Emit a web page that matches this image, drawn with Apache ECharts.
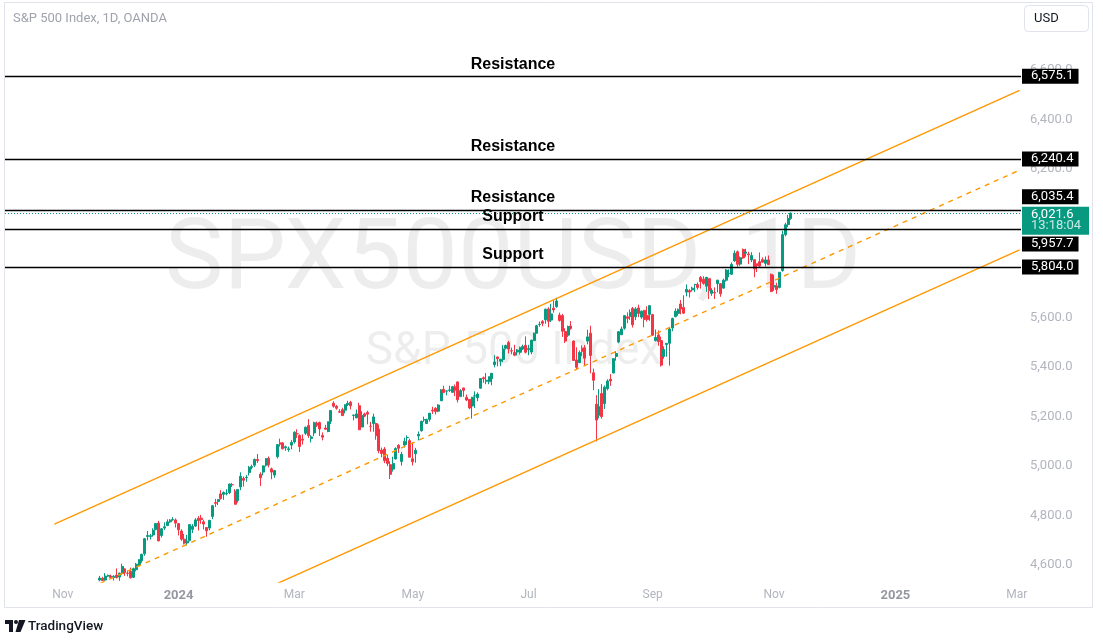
<!DOCTYPE html>
<html>
<head>
<meta charset="utf-8">
<script src="https://cdn.jsdelivr.net/npm/echarts/dist/echarts.min.js"></script>
<style>
html,body{margin:0;padding:0;background:#fff;}
#chart{width:1103px;height:643px;}
</style>
</head>
<body>
<div id="chart"></div>
<script>
// ---------- DATA ----------
const axisStart = '2023-10-04';
const axisEnd = '2025-03-04';
const marketHolidays = ['2023-11-23','2023-12-25','2024-01-01','2024-01-15','2024-02-19','2024-03-29','2024-05-27','2024-06-19','2024-07-04','2024-09-02'];
const firstCandleDate = '2023-11-20';
const monthNames = ['Jan','Feb','Mar','Apr','May','Jun','Jul','Aug','Sep','Oct','Nov','Dec'];

// daily candles [open, close, low, high]
const ohlc = [
// 2023-11
[4540,4548,4535,4557],[4547,4538,4536,4553],[4540,4556,4537,4568],[4556,4559,4553,4562],[4556,4550,4546,4562],[4550,4555,4538,4560],[4560,4550,4546,4587],[4552,4568,4537,4570],
// 2023-12
[4566,4595,4560,4606],[4585,4570,4557,4588],[4568,4567,4555,4578],[4575,4549,4546,4590],[4551,4586,4548,4590],[4582,4604,4575,4609],[4600,4622,4595,4624],[4618,4644,4610,4646],[4646,4707,4638,4710],[4716,4720,4700,4738],
[4716,4719,4704,4726],[4722,4741,4715,4749],[4744,4768,4741,4770],[4770,4698,4697,4779],[4720,4747,4712,4750],[4750,4755,4742,4773],[4760,4775,4758,4785],[4775,4782,4771,4786],[4783,4784,4780,4794],[4783,4770,4752,4789],
// 2024-01
[4768,4743,4720,4770],[4738,4705,4698,4745],[4705,4689,4684,4726],[4690,4697,4680,4722],[4700,4764,4696,4765],[4745,4757,4730,4766],[4758,4783,4755,4790],[4790,4780,4740,4798],[4790,4784,4767,4803],[4775,4766,4744,4783],
[4752,4739,4715,4754],[4750,4781,4741,4783],[4797,4840,4786,4843],[4853,4850,4835,4868],[4857,4865,4843,4866],[4888,4869,4865,4903],[4886,4894,4864,4898],[4888,4891,4882,4907],[4893,4928,4887,4929],[4925,4925,4916,4932],[4899,4846,4845,4907],
// 2024-02
[4861,4906,4853,4907],[4916,4959,4903,4975],[4950,4943,4918,4958],[4954,4955,4937,4964],[4974,4995,4962,5001],[4995,4998,4987,5006],[5004,5027,4996,5031],[5027,5022,5013,5049],[4967,4953,4920,4975],[4976,5001,4963,5003],
[5004,5030,4998,5033],[5032,5006,4995,5039],[4989,4976,4947,4994],[4964,4982,4953,4985],[5038,5087,5031,5088],[5094,5089,5079,5111],[5094,5070,5068,5097],[5074,5078,5062,5083],[5067,5070,5058,5079],[5085,5096,5068,5105],
// 2024-03
[5098,5137,5091,5141],[5131,5131,5114,5149],[5124,5079,5057,5128],[5109,5105,5087,5128],[5133,5157,5126,5160],[5164,5124,5114,5190],[5112,5118,5096,5125],[5134,5175,5121,5180],[5174,5165,5158,5180],[5176,5150,5122,5180],
[5124,5117,5104,5136],[5154,5149,5147,5167],[5140,5179,5137,5180],[5181,5225,5170,5226],[5254,5242,5236,5262],[5242,5234,5228,5247],[5220,5218,5215,5230],[5228,5204,5204,5236],[5226,5248,5213,5250],[5248,5254,5243,5264],
// 2024-04
[5258,5244,5229,5264],[5205,5206,5185,5209],[5195,5211,5194,5229],[5244,5147,5146,5256],[5158,5204,5157,5222],[5211,5202,5198,5216],[5217,5210,5169,5224],[5161,5161,5139,5179],[5172,5199,5139,5212],[5172,5123,5107,5176],
[5150,5062,5052,5168],[5065,5051,5036,5075],[5069,5022,5012,5077],[5032,5011,5000,5046],[5006,4967,4948,5020],[4988,5011,4978,5038],[5029,5071,5027,5076],[5084,5072,5053,5089],[5019,5048,5002,5058],[5085,5100,5075,5115],[5115,5116,5086,5124],[5103,5036,5035,5111],
// 2024-05
[5030,5018,5003,5096],[5050,5064,5014,5074],[5122,5128,5104,5140],[5143,5181,5139,5184],[5187,5188,5179,5200],[5172,5188,5170,5192],[5189,5214,5180,5215],[5226,5223,5211,5240],[5234,5221,5209,5238],[5222,5247,5218,5250],
[5264,5308,5263,5311],[5310,5297,5296,5325],[5303,5304,5286,5306],[5306,5308,5299,5325],[5298,5321,5298,5324],[5320,5307,5283,5330],[5340,5268,5257,5342],[5281,5305,5279,5311],[5316,5306,5280,5316],[5278,5267,5263,5289],[5270,5235,5230,5271],[5243,5278,5192,5280],
// 2024-06
[5283,5284,5235,5302],[5276,5291,5262,5298],[5315,5354,5313,5356],[5357,5353,5337,5362],[5343,5347,5331,5376],[5341,5361,5331,5362],[5353,5375,5327,5376],[5410,5421,5399,5448],[5441,5434,5403,5442],[5424,5432,5404,5433],
[5431,5473,5420,5489],[5476,5487,5471,5491],[5499,5473,5455,5506],[5466,5465,5452,5479],[5459,5448,5444,5490],[5461,5469,5447,5473],[5460,5478,5451,5483],[5473,5483,5469,5491],[5488,5460,5455,5524],
// 2024-07
[5471,5475,5448,5490],[5461,5509,5452,5510],[5507,5537,5505,5540],[5537,5567,5535,5571],[5572,5573,5563,5584],[5584,5577,5565,5590],[5591,5634,5575,5636],[5635,5585,5561,5642],[5590,5615,5582,5656],[5638,5631,5620,5670],
[5644,5667,5640,5680],[5610,5588,5584,5620],[5608,5545,5522,5615],[5544,5505,5497,5557],[5529,5564,5522,5568],[5566,5556,5551,5586],[5505,5427,5425,5508],[5429,5399,5391,5480],[5418,5459,5416,5467],[5476,5464,5444,5488],[5478,5436,5404,5489],[5505,5522,5492,5551],
// 2024-08
[5537,5447,5375,5567],[5377,5347,5307,5394],[5250,5186,5100,5287],[5206,5240,5193,5311],[5293,5200,5192,5331],[5253,5319,5231,5326],[5313,5344,5306,5351],[5351,5344,5324,5372],[5376,5434,5376,5436],[5443,5455,5426,5464],
[5501,5543,5496,5546],[5531,5554,5529,5564],[5557,5608,5551,5609],[5603,5597,5577,5621],[5605,5621,5591,5633],[5637,5571,5560,5643],[5603,5635,5590,5642],[5639,5617,5602,5652],[5602,5626,5595,5628],[5629,5592,5561,5631],[5608,5592,5584,5646],[5613,5648,5587,5651],
// 2024-09
[5612,5529,5527,5615],[5507,5520,5504,5552],[5530,5503,5486,5548],[5507,5408,5402,5523],[5443,5471,5434,5484],[5491,5496,5442,5497],[5496,5554,5406,5561],[5558,5596,5545,5600],[5604,5626,5601,5637],[5617,5633,5607,5637],
[5655,5635,5613,5671],[5641,5618,5615,5690],[5703,5714,5686,5734],[5709,5703,5681,5715],[5712,5719,5705,5725],[5733,5734,5703,5736],[5733,5722,5713,5742],[5762,5745,5717,5768],[5755,5738,5733,5767],[5727,5762,5704,5765],
// 2024-10
[5757,5709,5675,5758],[5698,5710,5688,5719],[5702,5700,5675,5722],[5737,5751,5702,5753],[5737,5696,5684,5739],[5719,5751,5718,5757],[5751,5792,5745,5796],[5778,5780,5763,5795],[5775,5815,5773,5823],[5829,5860,5825,5871],
[5866,5815,5805,5871],[5816,5842,5809,5847],[5875,5841,5837,5879],[5860,5865,5846,5878],[5857,5854,5816,5866],[5833,5851,5824,5864],[5834,5797,5763,5835],[5817,5810,5784,5818],[5826,5808,5802,5863],[5834,5824,5822,5843],
[5819,5833,5806,5847],[5833,5814,5813,5851],[5775,5705,5703,5777],
// 2024-11
[5724,5729,5708,5773],[5728,5713,5696,5741],[5722,5783,5718,5784],[5790,5935,5785,5950],[5935,5975,5928,5983],[5976,6000,5966,6015],[6000,6021.6,5995,6025]
];

// horizontal levels drawn on the chart
const levelValues = [6575.1, 6240.4, 6035.4, 5957.7, 5804.0];
const levelNames = ['Resistance', 'Resistance', 'Resistance', 'Support', 'Support'];
const levelBoxShift = [0, 0, -13, 15, 0];   // px nudge of the price tag (label style)
const countdown = '13:18:04';

// parallel channel (two anchor dates, values at each)
const channelDates = ['2023-10-27', '2025-03-04'];
const channelUpper = [4765.5, 6517.5];
const channelMiddle = [4443.5, 6195.5];
const channelLower = [4121.5, 5873.5];

// price scale
const yMin = 4532.1, yMax = 6862.5, yStep = 200;

// ---------- BUILD ----------
function ymd(d){ return d.toISOString().slice(0,10); }
const categories = [];
for (let d = new Date(axisStart + 'T00:00:00Z'); ymd(d) <= axisEnd; d.setUTCDate(d.getUTCDate() + 1)) {
  const wd = d.getUTCDay();
  if (wd === 0 || wd === 6) continue;
  const s = ymd(d);
  if (marketHolidays.indexOf(s) >= 0) continue;
  categories.push(s);
}
const i0 = categories.indexOf(firstCandleDate);
const candleData = ohlc.map((r, i) => [i0 + i, r[0], r[1], r[2], r[3]]);
const lastClose = ohlc[ohlc.length - 1][1];

const fmt = v => v.toLocaleString('en-US', {minimumFractionDigits: 1, maximumFractionDigits: 1});
const monthOf = s => +s.slice(5, 7);
function isLabel(index) {
  if (index === 0) return false;
  const m = monthOf(categories[index]);
  return m !== monthOf(categories[index - 1]) && (m % 2 === 1);
}

const boxRich = {
  b: {backgroundColor: '#000', color: '#fff', fontSize: 13, fontFamily: 'Roboto', lineHeight: 15, padding: [1, 5, 1, 9]}
};
const markData = [];
levelValues.forEach((v, i) => {
  markData.push({
    yAxis: v,
    lineStyle: {color: '#000', width: 1.4, type: 'solid'},
    label: {show: true, position: 'insideMiddleTop', distance: 4, formatter: () => levelNames[i],
      color: '#000', fontFamily: 'Liberation Sans', fontWeight: 'bold', fontSize: 16}
  });
  const sh = levelBoxShift[i];
  let f = '{b|' + fmt(v) + '}';
  if (sh < 0) f = f + '\n{s| }';
  else if (sh > 0) f = '{s| }\n' + f;
  markData.push({
    yAxis: v,
    lineStyle: {color: 'rgba(0,0,0,0)', width: 0},
    label: {show: true, position: 'end', distance: 1, formatter: () => f,
      rich: Object.assign({}, boxRich, {s: {fontSize: 1, lineHeight: Math.max(1, 2 * Math.abs(sh))}})}
  });
});
markData.push({
  yAxis: lastClose,
  lineStyle: {color: '#089981', width: 1, type: [1, 2]},
  label: {show: true, position: 'end', distance: 1,
    formatter: () => '{s| }\n{p|' + fmt(lastClose) + '}\n{t|' + countdown + '}',
    rich: {
      s: {fontSize: 1, lineHeight: 15},
      p: {backgroundColor: '#089981', color: '#fff', fontSize: 13, fontFamily: 'Roboto', lineHeight: 13, width: 53, padding: [2, 5, 0, 9]},
      t: {backgroundColor: '#089981', color: 'rgba(255,255,255,0.78)', fontSize: 13, fontFamily: 'Roboto', lineHeight: 13, width: 53, padding: [0, 5, 2, 9]}
    }}
});

function channelSeries(vals, dashed) {
  return {
    type: 'line', symbol: 'none', clip: true, silent: true, z: 3,
    data: [[channelDates[0], vals[0]], [channelDates[1], vals[1]]],
    lineStyle: {color: '#ff9800', width: 1.4, type: dashed ? [5, 5] : 'solid'}
  };
}

const chart = echarts.init(document.getElementById('chart'), null, {renderer: 'canvas'});
chart.setOption({
  animation: false,
  backgroundColor: '#ffffff',
  grid: {left: 5, right: 82, top: 5, bottom: 61},
  xAxis: {
    type: 'category', data: categories, boundaryGap: true,
    axisLine: {show: false}, axisTick: {show: false}, splitLine: {show: false},
    axisLabel: {
      interval: (index) => isLabel(index),
      formatter: (value) => {
        const m = monthOf(value);
        return m === 1 ? '{y|' + value.slice(0, 4) + '}' : monthNames[m - 1];
      },
      color: '#b2b5be', fontSize: 12, fontFamily: 'Roboto', margin: 7, hideOverlap: false,
      rich: {y: {color: '#9598a1', fontWeight: 'bold', fontSize: 13, fontFamily: 'Roboto'}}
    }
  },
  yAxis: {
    type: 'value', position: 'right', min: yMin, max: yMax,
    splitNumber: 12, minInterval: yStep, maxInterval: yStep,
    axisLine: {show: false}, axisTick: {show: false}, splitLine: {show: false},
    axisLabel: {
      showMinLabel: false, showMaxLabel: false,
      formatter: v => (v % yStep === 0 && v <= 6600) ? fmt(v) : '',
      color: '#b2b5be', fontSize: 13, fontFamily: 'Roboto', margin: 9
    }
  },
  series: [
    {
      type: 'candlestick', name: 'SPX500USD', z: 2,
      data: candleData,
      encode: {x: 0, y: [1, 2, 3, 4]},
      barWidth: 2.5,
      itemStyle: {color: '#089981', color0: '#f23645', borderColor: '#089981', borderColor0: '#f23645', borderWidth: 1},
      markLine: {silent: true, symbol: ['none', 'none'], animation: false, data: markData}
    },
    channelSeries(channelUpper, false),
    channelSeries(channelMiddle, true),
    channelSeries(channelLower, false)
  ],
  graphic: [
    {type: 'rect', z: -20, silent: true, shape: {x: 4.5, y: 2.5, width: 1088, height: 605}, style: {fill: 'none', stroke: '#e0e3eb', lineWidth: 1}},
    {type: 'text', z: -10, silent: true, x: 513, y: 263,
      style: {text: 'SPX500USD, 1D', font: '99px Roboto', fill: 'rgba(0,0,0,0.07)', align: 'center', verticalAlign: 'middle', textAlign: 'center', textVerticalAlign: 'middle'}},
    {type: 'text', z: -10, silent: true, x: 514, y: 352,
      style: {text: 'S&P 500 Index', font: '46px Roboto', fill: 'rgba(0,0,0,0.07)', align: 'center', verticalAlign: 'middle', textAlign: 'center', textVerticalAlign: 'middle'}},
    {type: 'text', z: 10, silent: true, x: 13, y: 19,
      style: {text: 'S&P 500 Index, 1D, OANDA', font: '13px Roboto', fill: '#a0a3ac', align: 'left', verticalAlign: 'middle', textAlign: 'left', textVerticalAlign: 'middle'}},
    {type: 'rect', z: 10, silent: true, shape: {x: 1024.5, y: 5.5, width: 64, height: 26, r: 4}, style: {fill: '#fff', stroke: '#e0e3eb', lineWidth: 1}},
    {type: 'text', z: 11, silent: true, x: 1034, y: 18.5,
      style: {text: 'USD', font: '13px Roboto', fill: '#131722', align: 'left', verticalAlign: 'middle', textAlign: 'left', textVerticalAlign: 'middle'}},
    {type: 'rect', z: 10, silent: true, shape: {x: 5, y: 620, width: 8, height: 4}, style: {fill: '#131722'}},
    {type: 'rect', z: 10, silent: true, shape: {x: 9, y: 620, width: 4, height: 12}, style: {fill: '#131722'}},
    {type: 'circle', z: 10, silent: true, shape: {cx: 16, cy: 622, r: 2}, style: {fill: '#131722'}},
    {type: 'polygon', z: 10, silent: true, shape: {points: [[19, 620], [25.5, 620], [20.5, 632], [15.5, 632]]}, style: {fill: '#131722'}},
    {type: 'text', z: 10, silent: true, x: 28, y: 627,
      style: {text: 'TradingView', font: '500 13.5px Roboto', fill: '#131722', align: 'left', verticalAlign: 'middle', textAlign: 'left', textVerticalAlign: 'middle'}}
  ]
});
</script>
</body>
</html>
